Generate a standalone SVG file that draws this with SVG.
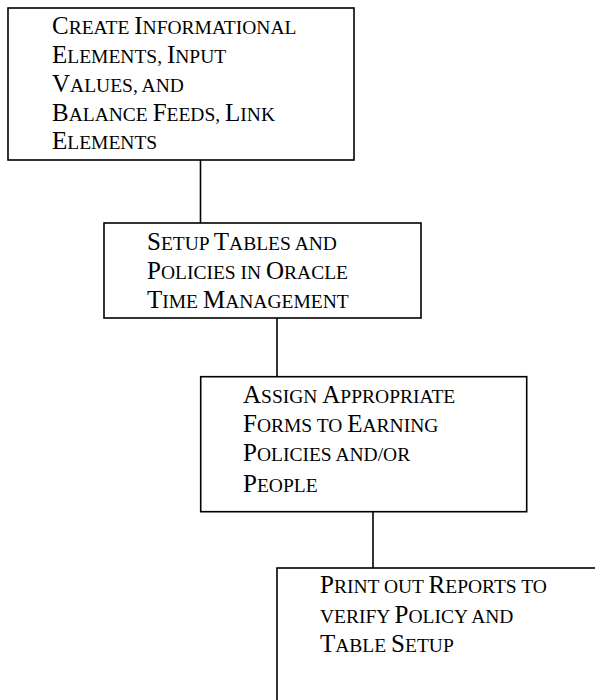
<svg xmlns="http://www.w3.org/2000/svg" width="595" height="700" viewBox="0 0 595 700">
<style>
.box{fill:#fff;stroke:#000;stroke-width:1.6}
.conn{stroke:#000;stroke-width:1.6;fill:none}
.t{font-family:"Liberation Serif","Times New Roman",serif;font-size:25px;fill:#000}
.s{font-size:19.5px}
</style>
<rect width="595" height="700" fill="#fff"/>
<g id="connectors">
<line class="conn" x1="200.5" y1="160" x2="200.5" y2="223"/>
<line class="conn" x1="277" y1="318" x2="277" y2="377"/>
<line class="conn" x1="373" y1="512" x2="373" y2="568"/>
</g>
<g id="node1">
<rect class="box" x="8" y="8" width="346" height="152"/>
<text class="t" x="52" y="34">C<tspan class="s">REATE </tspan>I<tspan class="s">NFORMATIONAL</tspan></text>
<text class="t" x="52" y="63">E<tspan class="s">LEMENTS, </tspan>I<tspan class="s">NPUT</tspan></text>
<text class="t" x="52" y="92">V<tspan class="s">ALUES, AND</tspan></text>
<text class="t" x="52" y="121">B<tspan class="s">ALANCE </tspan>F<tspan class="s">EEDS, </tspan>L<tspan class="s">INK</tspan></text>
<text class="t" x="52" y="149">E<tspan class="s">LEMENTS</tspan></text>
</g>
<g id="node2">
<rect class="box" x="104" y="223" width="317" height="95"/>
<text class="t" x="147" y="250">S<tspan class="s">ETUP </tspan>T<tspan class="s">ABLES AND</tspan></text>
<text class="t" x="147" y="279.3">P<tspan class="s">OLICIES IN </tspan>O<tspan class="s">RACLE</tspan></text>
<text class="t" x="147" y="308.3">T<tspan class="s">IME </tspan>M<tspan class="s">ANAGEMENT</tspan></text>
</g>
<g id="node3">
<rect class="box" x="200.7" y="376.7" width="326" height="135"/>
<text class="t" x="243" y="402.7">A<tspan class="s">SSIGN </tspan>A<tspan class="s">PPROPRIATE</tspan></text>
<text class="t" x="243" y="431.7">F<tspan class="s">ORMS TO </tspan>E<tspan class="s">ARNING</tspan></text>
<text class="t" x="243" y="461">P<tspan class="s">OLICIES AND/OR</tspan></text>
<text class="t" x="243" y="491.7">P<tspan class="s">EOPLE</tspan></text>
</g>
<g id="node4">
<rect class="box" x="277" y="568" width="340" height="150"/>
<text class="t" x="320" y="593.3">P<tspan class="s">RINT OUT </tspan>R<tspan class="s">EPORTS TO</tspan></text>
<text class="t" x="320" y="622.7"><tspan class="s">VERIFY </tspan>P<tspan class="s">OLICY AND</tspan></text>
<text class="t" x="320" y="651.7">T<tspan class="s">ABLE </tspan>S<tspan class="s">ETUP</tspan></text>
</g>
</svg>
